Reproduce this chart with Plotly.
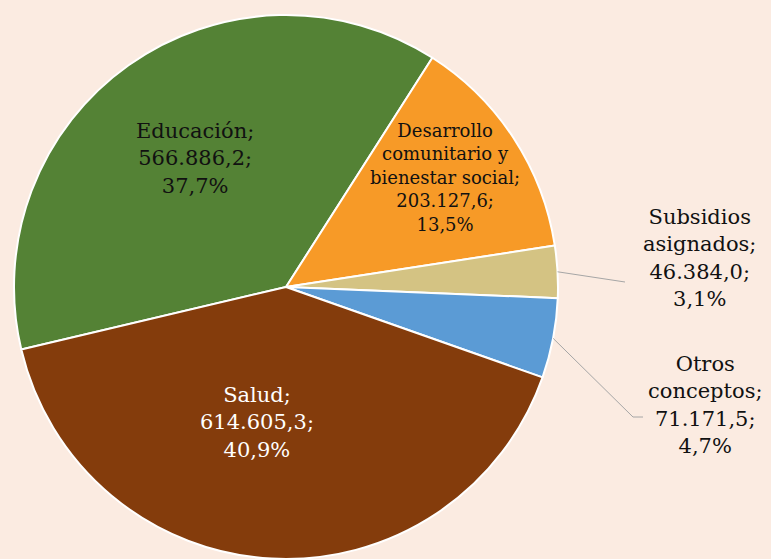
import math
import plotly.graph_objects as go

categories = ["Educación", "Desarrollo comunitario y bienestar social", "Subsidios asignados", "Otros conceptos", "Salud"]
label_lines = ["Educación;", "Desarrollo<br>comunitario y<br>bienestar social;", "Subsidios<br>asignados;", "Otros<br>conceptos;", "Salud;"]
values = [566886.2, 203127.6, 46384.0, 71171.5, 614605.3]
colors = ["#548235", "#F79A27", "#D4C383", "#5B9BD5", "#843C0C"]
text_colors = ["#111111", "#111111", "#111111", "#111111", "#FFFFFF"]
font_sizes = [21, 18, 21, 21, 21]

W, H = 771, 559
BG = "#FBEBE1"
start_angle = 256.7  # degrees clockwise from 12 o'clock where first slice begins
cx, cy, R = 286, 287, 272

def fmt_num(v):
    s = f"{v:,.1f}"
    return s.replace(",", "X").replace(".", ",").replace("X", ".")

total = sum(values)
pcts = [v / total * 100 for v in values]

fig = go.Figure(go.Pie(
    labels=categories, values=values, sort=False, direction="clockwise",
    rotation=start_angle,
    marker=dict(colors=colors, line=dict(color="white", width=2)),
    textinfo="none", hoverinfo="label+value+percent",
    domain=dict(x=[(cx - R) / W, (cx + R) / W], y=[(H - cy - R) / H, (H - cy + R) / H]),
    showlegend=False,
))

# label placement styles: (radius fraction, angle offset) for inside labels, or outside anchor
inside = {0: (0.58, 0.0), 1: (0.71, -1.5), 4: (0.51, 9.0)}
outside = {2: dict(end=(625, 282), tx=699, ty=258),
           3: dict(end=(633, 417), elbow=(643, 417), tx=705, ty=405)}

annotations = []
shapes = []
acc = 0.0
for i, v in enumerate(values):
    frac = v / total
    mid = start_angle + (acc + frac / 2) * 360
    acc += frac
    pct_txt = f"{pcts[i]:.1f}".replace(".", ",") + "%"
    txt = f"{label_lines[i]}<br>{fmt_num(v)};<br>{pct_txt}"
    font = dict(family="DejaVu Serif", size=font_sizes[i], color=text_colors[i])
    if i in inside:
        rf, off = inside[i]
        th = math.radians(mid + off)
        r = rf * R
        px, py = cx + r * math.sin(th), cy - r * math.cos(th)
    else:
        th = math.radians(mid)
        o = outside[i]
        ex, ey = cx + R * math.sin(th), cy - R * math.cos(th)
        pts = [(ex, ey), o["end"]]
        if "elbow" in o:
            pts.append(o["elbow"])
        for (x0, y0), (x1, y1) in zip(pts[:-1], pts[1:]):
            shapes.append(dict(type="line", xref="paper", yref="paper", x0=x0 / W, y0=1 - y0 / H,
                               x1=x1 / W, y1=1 - y1 / H, line=dict(color="#A6A6A6", width=1)))
        px, py = o["tx"], o["ty"]
    annotations.append(dict(x=px / W, y=1 - py / H, xref="paper", yref="paper", text=txt,
                            xanchor="center", yanchor="middle",
                            showarrow=False, font=font, align="center"))

fig.update_layout(
    width=W, height=H, margin=dict(l=0, r=0, t=0, b=0),
    paper_bgcolor=BG, plot_bgcolor=BG,
    annotations=annotations, shapes=shapes,
)
fig.write_html("out.html", config={"displayModeBar": False},
               post_script=f"document.body.style.margin='0';document.body.style.background='{BG}';")
